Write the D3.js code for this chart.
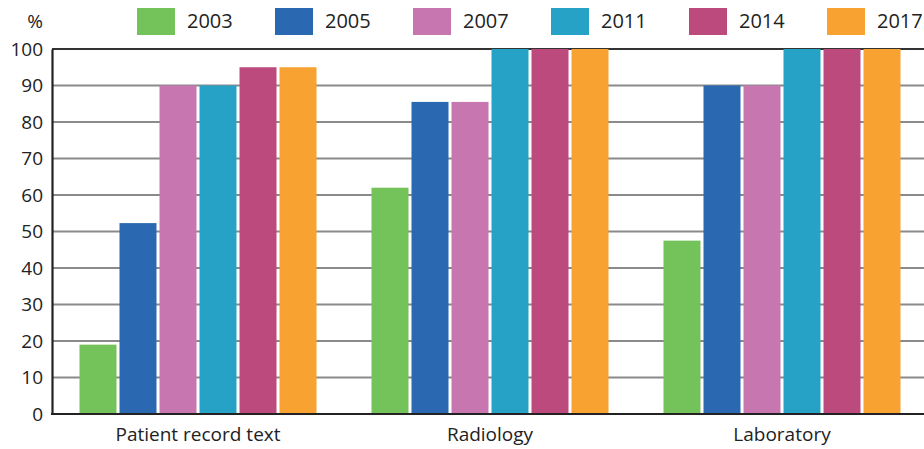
<!DOCTYPE html>
<html><head><meta charset="utf-8">
<script src="https://cdn.jsdelivr.net/npm/d3@7"></script>
<style>body{margin:0;background:#fff}svg{display:block;font-family:"Open Sans",sans-serif}</style>
</head><body><svg id="c" width="924" height="449"></svg>
<script>
const categories = ["Patient record text", "Radiology", "Laboratory"];
const years = ["2003", "2005", "2007", "2011", "2014", "2017"];
const v2003 = [19, 62, 47.5];
const v2005 = [52.3, 85.5, 90];
const v2007 = [90, 85.5, 90];
const v2011 = [90, 100, 100];
const v2014 = [95, 100, 100];
const v2017 = [95, 100, 100];
const yTicks = [0,10,20,30,40,50,60,70,80,90,100];
const colors = ["#74c25a", "#2a68b1", "#c776af", "#26a2c6", "#bc4a7d", "#f8a231"];
const series = [v2003, v2005, v2007, v2011, v2014, v2017];

const svg = d3.select("#c");
const x0 = d3.scaleBand().domain(categories).range([52, 928]).paddingInner(0).paddingOuter(0);
const x1 = d3.scaleBand().domain(years).range([27.5, 264.5]).paddingOuter(0).paddingInner(0.075);
const y = d3.scaleLinear().domain([0, 100]).range([414, 49]);

// gridlines
svg.append("g").selectAll("line").data(yTicks.filter(d => d > 0 && d < 100)).join("line")
  .attr("x1", 52).attr("x2", 924).attr("y1", d => y(d)).attr("y2", d => y(d))
  .attr("stroke", "#8a8a8a").attr("stroke-width", 2);
svg.append("line").attr("x1", 52).attr("x2", 924).attr("y1", y(100)).attr("y2", y(100))
  .attr("stroke", "#333").attr("stroke-width", 2);

// bars
const g = svg.append("g");
categories.forEach((c, ci) => {
  years.forEach((yr, si) => {
    const v = series[si][ci];
    g.append("rect")
      .attr("x", x0(c) + x1(yr)).attr("width", x1.bandwidth())
      .attr("y", y(v)).attr("height", y(0) - y(v))
      .attr("fill", colors[si]);
  });
});

// axes
const yAxis = svg.append("g").attr("transform", "translate(52,0)")
  .call(d3.axisLeft(y).tickValues(yTicks).tickSize(0).tickPadding(9));
yAxis.select(".domain").attr("stroke", "#222").attr("stroke-width", 2.2);
yAxis.selectAll("text").attr("font-size", 19).attr("fill", "#222").attr("font-family", "Open Sans");
const xAxis = svg.append("g").attr("transform", "translate(0,414)")
  .call(d3.axisBottom(x0).tickSize(0).tickPadding(14));
xAxis.select(".domain").remove();
svg.append("line").attr("x1", 51).attr("x2", 924).attr("y1", 414).attr("y2", 414)
  .attr("stroke", "#222").attr("stroke-width", 2.2);
xAxis.selectAll("text").attr("font-size", 19).attr("fill", "#222").attr("font-family", "Open Sans");

svg.append("text").attr("x", 35).attr("y", 28).attr("text-anchor", "middle")
  .attr("font-size", 19).attr("fill", "#222").text("%");

// legend
const lg = svg.append("g");
years.forEach((yr, i) => {
  const lx = 137 + i * 138;
  lg.append("rect").attr("x", lx).attr("y", 8).attr("width", 38).attr("height", 27).attr("fill", colors[i]);
  lg.append("text").attr("x", lx + 50).attr("y", 28).attr("font-size", 20).attr("fill", "#222")
    .text(yr);
});
</script></body></html>
